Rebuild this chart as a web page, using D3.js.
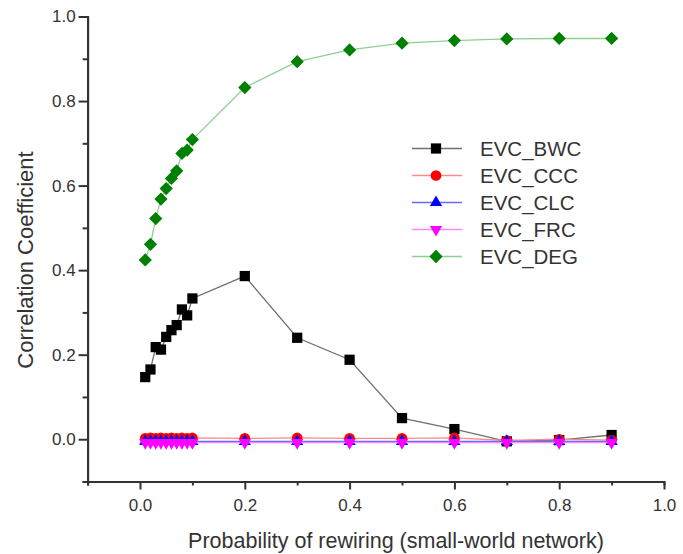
<!DOCTYPE html>
<html>
<head>
<meta charset="utf-8">
<script src="https://cdn.jsdelivr.net/npm/d3@7"></script>
<style>
  html, body { margin: 0; padding: 0; background: #fff; }
  svg { display: block; font-family: "Liberation Sans", Arial, sans-serif; }
</style>
</head>
<body>
<svg id="chart" width="683" height="554"></svg>
<script>
// Rewiring probabilities (x values)
const probs = [0.01, 0.02, 0.03, 0.04, 0.05, 0.06, 0.07, 0.08, 0.09, 0.10,
               0.2, 0.3, 0.4, 0.5, 0.6, 0.7, 0.8, 0.9];

// Correlation of EVC with each centrality measure
const evcBWC = [0.147, 0.165, 0.218, 0.212, 0.242, 0.258, 0.270, 0.307, 0.293, 0.333,
                0.386, 0.240, 0.188, 0.050, 0.024, -0.005, -0.002, 0.010];
const evcCCC = [0.002, 0.003, 0.002, 0.003, 0.002, 0.003, 0.002, 0.003, 0.002, 0.003,
                0.002, 0.003, 0.002, 0.002, 0.003, -0.003, 0.000, -0.002];
const evcCLC = [-0.005, -0.005, -0.005, -0.005, -0.005, -0.005, -0.005, -0.005, -0.005, -0.005,
                -0.005, -0.005, -0.005, -0.005, -0.005, -0.005, -0.005, -0.005];
const evcFRC = [-0.008, -0.008, -0.008, -0.008, -0.008, -0.008, -0.008, -0.008, -0.008, -0.008,
                -0.008, -0.008, -0.008, -0.008, -0.008, -0.008, -0.008, -0.008];
const evcDEG = [0.424, 0.461, 0.522, 0.568, 0.593, 0.617, 0.635, 0.676, 0.684, 0.709,
                0.832, 0.893, 0.921, 0.937, 0.943, 0.947, 0.948, 0.948];

const seriesNames = ["EVC_BWC", "EVC_CCC", "EVC_CLC", "EVC_FRC", "EVC_DEG"];

// Tick labels
const xTickValues = [0.0, 0.2, 0.4, 0.6, 0.8, 1.0];
const yTickValues = [0.0, 0.2, 0.4, 0.6, 0.8, 1.0];
const xMinorValues = [-0.1, 0.1, 0.3, 0.5, 0.7, 0.9];
const yMinorValues = [-0.1, 0.1, 0.3, 0.5, 0.7, 0.9];

const xTitle = "Probability of rewiring (small-world network)";
const yTitle = "Correlation Coefficient";

const svg = d3.select("#chart");
const axisColor = "#333";

const x = d3.scaleLinear().domain([-0.1, 1.0]).range([87.6, 664]);
const y = d3.scaleLinear().domain([-0.1, 1.0]).range([481.5, 16.5]);

// Axes: minor ticks first, then major ticks with labels
const fmt = d3.format(".1f");
function styleAxis(g) {
  g.select(".domain").attr("stroke", axisColor).attr("stroke-width", 2);
  g.selectAll(".tick line").attr("stroke", axisColor).attr("stroke-width", 2);
  g.selectAll(".tick text").attr("fill", axisColor).attr("font-size", 17)
    .attr("font-family", "Liberation Sans, Arial, sans-serif");
}

svg.append("g").attr("transform", `translate(0,${y(-0.1)})`)
  .call(d3.axisBottom(x).tickValues(xMinorValues).tickSize(4).tickFormat(""))
  .call(styleAxis);
svg.append("g").attr("transform", `translate(0,${y(-0.1)})`)
  .call(d3.axisBottom(x).tickValues(xTickValues).tickSize(8).tickSizeOuter(0).tickPadding(9).tickFormat(fmt))
  .call(styleAxis);

svg.append("g").attr("transform", `translate(${x(-0.1)},0)`)
  .call(d3.axisLeft(y).tickValues(yMinorValues).tickSize(5).tickFormat(""))
  .call(styleAxis);
svg.append("g").attr("transform", `translate(${x(-0.1)},0)`)
  .call(d3.axisLeft(y).tickValues(yTickValues).tickSize(9).tickSizeOuter(0).tickPadding(3).tickFormat(fmt))
  .call(styleAxis);

// Axis titles
svg.append("text")
  .attr("x", 396).attr("y", 548)
  .attr("text-anchor", "middle")
  .attr("font-size", 21.5).attr("fill", axisColor)
  .text(xTitle);

svg.append("text")
  .attr("transform", "translate(33,260) rotate(-90)")
  .attr("text-anchor", "middle")
  .attr("font-size", 22).attr("fill", axisColor)
  .text(yTitle);

// Series definitions
const series = [
  { name: seriesNames[0], values: evcBWC, line: "#707070", fill: "#000000", shape: d3.symbolSquare, size: 105, rot: 0 },
  { name: seriesNames[1], values: evcCCC, line: "#ff8a8a", fill: "#ff0000", shape: d3.symbolCircle, size: 90, rot: 0 },
  { name: seriesNames[2], values: evcCLC, line: "#6a6aff", fill: "#0000ff", shape: d3.symbolTriangle, size: 65, rot: 0 },
  { name: seriesNames[3], values: evcFRC, line: "#ff88ff", fill: "#ff00ff", shape: d3.symbolTriangle, size: 65, rot: 180 },
  { name: seriesNames[4], values: evcDEG, line: "#8fd08f", fill: "#008000", shape: d3.symbolSquare, size: 88, rot: 45 }
];

const line = d3.line().x(d => x(d[0])).y(d => y(d[1]));

series.forEach(s => {
  const pts = probs.map((p, i) => [p, s.values[i]]);
  const g = svg.append("g");
  g.append("path")
    .attr("d", line(pts))
    .attr("fill", "none")
    .attr("stroke", s.line)
    .attr("stroke-width", 1.3);
  g.selectAll("path.pt").data(pts).enter().append("path")
    .attr("class", "pt")
    .attr("d", d3.symbol().type(s.shape).size(s.size))
    .attr("transform", d => `translate(${x(d[0])},${y(d[1])}) rotate(${s.rot})`)
    .attr("fill", s.fill);
});

// Legend
const legend = svg.append("g").attr("transform", "translate(412,148.5)");
series.forEach((s, i) => {
  const row = legend.append("g").attr("transform", `translate(0,${i * 27})`);
  row.append("line").attr("x1", 0).attr("x2", 50).attr("y1", 0).attr("y2", 0)
    .attr("stroke", s.line).attr("stroke-width", 1.3);
  row.append("path")
    .attr("d", d3.symbol().type(s.shape).size(s.size))
    .attr("transform", `translate(24,0) rotate(${s.rot})`)
    .attr("fill", s.fill);
  row.append("text")
    .attr("x", 68).attr("y", 0).attr("dy", "0.36em")
    .attr("font-size", 20.5).attr("fill", axisColor)
    .text(s.name);
});
</script>
</body>
</html>
